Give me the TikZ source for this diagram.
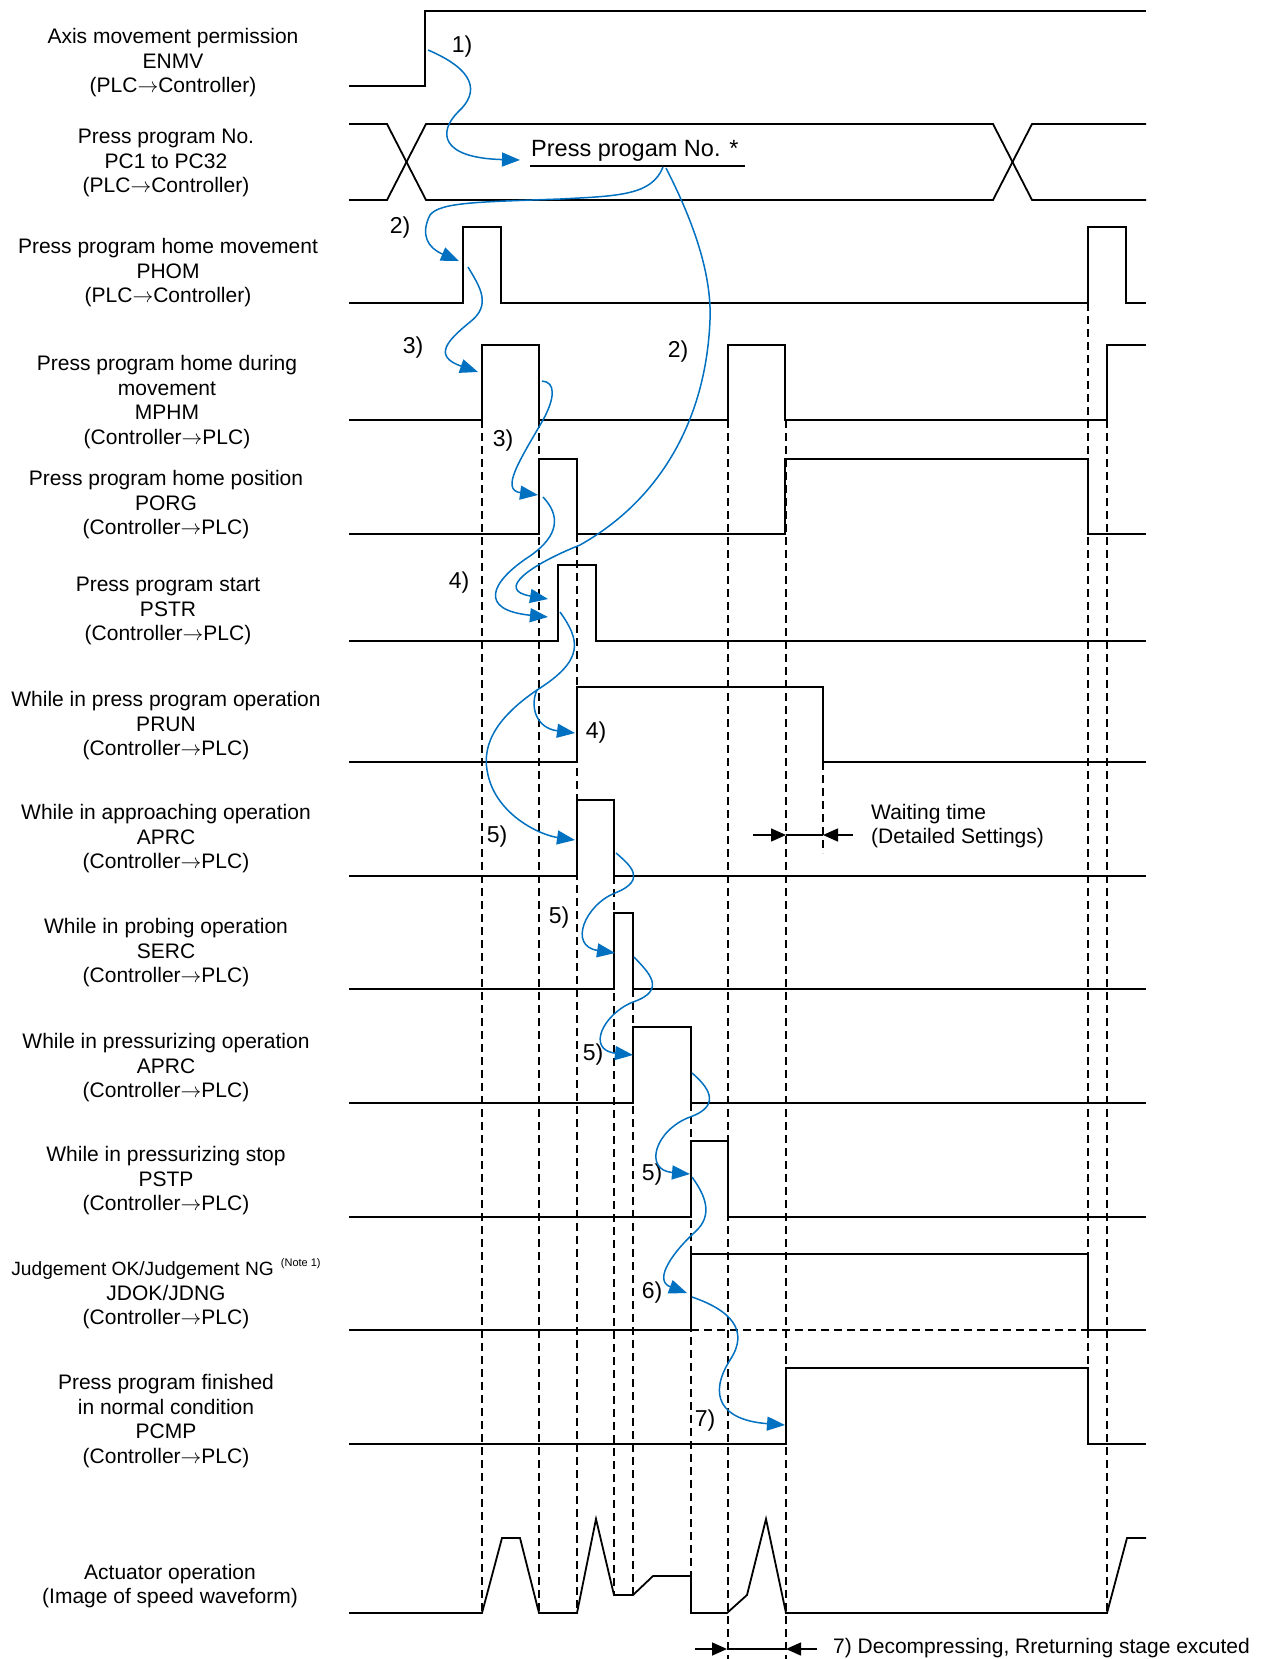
\documentclass[tikz,border=0pt]{standalone}
\usepackage{fontspec}
\setmainfont{Liberation Sans}
\usetikzlibrary{arrows.meta}
\definecolor{flowblue}{RGB}{0,112,192}
\newcommand{\myarr}{\ensuremath{\rightarrow}}
\tikzset{
  wave/.style={line width=1.8pt, line join=miter},
  guide/.style={line width=1.5pt, dash pattern=on 8pt off 5pt},
  flow/.style={flowblue, line width=1.5pt, -{Triangle[length=18pt,width=14pt]}},
  lbl/.style={align=center, font=\fontsize{21}{24.5}\selectfont, inner sep=0pt},
  num/.style={font=\fontsize{23}{27}\selectfont, inner sep=0pt},
  dimarrow/.style={line width=1.5pt, -{Triangle[length=15pt,width=13pt]}},
  dimline/.style={line width=1.5pt},
}
\begin{document}
\begin{tikzpicture}[x=1pt,y=-1pt]
\useasboundingbox (0,0) rectangle (1272,1659);

% ---------- signal labels ----------
\node[lbl] (tENMV) at (173,63) {Axis movement permission\\ENMV\\(PLC\myarr Controller)};
\node[lbl] (tPC) at (166,163) {Press program No.\\PC1 to PC32\\(PLC\myarr Controller)};
\node[lbl] (tPHOM) at (168,273) {Press program home movement\\PHOM\\(PLC\myarr Controller)};
\node[lbl] (tMPHM) at (167,402) {Press program home during\\movement\\MPHM\\(Controller\myarr PLC)};
\node[lbl] (tPORG) at (166,505) {Press program home position\\PORG\\(Controller\myarr PLC)};
\node[lbl] (tPSTR) at (168,611) {Press program start\\PSTR\\(Controller\myarr PLC)};
\node[lbl] (tPRUN) at (166,726) {While in press program operation\\PRUN\\(Controller\myarr PLC)};
\node[lbl] (tAPRC) at (166,839) {While in approaching operation\\APRC\\(Controller\myarr PLC)};
\node[lbl] (tSERC) at (166,953) {While in probing operation\\SERC\\(Controller\myarr PLC)};
\node[lbl] (tAPRCb) at (166,1068) {While in pressurizing operation\\APRC\\(Controller\myarr PLC)};
\node[lbl] (tPSTP) at (166,1181) {While in pressurizing stop\\PSTP\\(Controller\myarr PLC)};
\node[lbl] (tJDOK) at (166,1294) {{\fontsize{19.2}{24.5}\selectfont Judgement OK/Judgement NG}\hspace{7pt}\raisebox{9pt}{\fontsize{11}{13}\selectfont(Note 1)}\\JDOK/JDNG\\(Controller\myarr PLC)};
\node[lbl] (tPCMP) at (166,1421) {Press program finished\\in normal condition\\PCMP\\(Controller\myarr PLC)};
\node[lbl] (tACT) at (170,1586) {Actuator operation\\(Image of speed waveform)};

% ---------- guides (dashed) ----------
\draw[guide] (482,420) -- (482,1613);
\draw[guide] (539,420) -- (539,1613);
\draw[guide] (577,534) -- (577,1613);
\draw[guide] (614,876) -- (614,1595);
\draw[guide] (633,989) -- (633,1595);
\draw[guide] (691,1103) -- (691,1576);
\draw[guide] (728,420) -- (728,1659);
\draw[guide] (786,420) -- (786,1659);
\draw[guide] (823,762) -- (823,853);
\draw[guide] (1088,303) -- (1088,1444);
\draw[guide] (1107,420) -- (1107,1613);
\draw[guide] (691,1330) -- (1088,1330);

% ---------- waveforms ----------
\draw[wave] (349,86) -- (425,86) -- (425,11) -- (1146,11);
\draw[wave] (349,124) -- (387,124) -- (426,200) -- (993,200) -- (1032,124) -- (1146,124);
\draw[wave] (349,200) -- (387,200) -- (426,124) -- (993,124) -- (1032,200) -- (1146,200);
\draw[wave] (349,303) -- (463,303) -- (463,227) -- (501,227) -- (501,303) -- (1088,303) -- (1088,227) -- (1126,227) -- (1126,303) -- (1146,303);
\draw[wave] (349,420) -- (482,420) -- (482,345) -- (539,345) -- (539,420) -- (728,420) -- (728,345) -- (785,345) -- (785,420) -- (1107,420) -- (1107,345) -- (1146,345);
\draw[wave] (349,534) -- (539,534) -- (539,459) -- (577,459) -- (577,534) -- (785,534) -- (785,459) -- (1088,459) -- (1088,534) -- (1146,534);
\draw[wave] (349,641) -- (558,641) -- (558,565) -- (596,565) -- (596,641) -- (1146,641);
\draw[wave] (349,762) -- (577,762) -- (577,687) -- (823,687) -- (823,762) -- (1146,762);
\draw[wave] (349,876) -- (577,876) -- (577,800) -- (614,800) -- (614,876) -- (1146,876);
\draw[wave] (349,989) -- (614,989) -- (614,913) -- (633,913) -- (633,989) -- (1146,989);
\draw[wave] (349,1103) -- (633,1103) -- (633,1027) -- (691,1027) -- (691,1103) -- (1146,1103);
\draw[wave] (349,1217) -- (691,1217) -- (691,1141) -- (728,1141) -- (728,1217) -- (1146,1217);
\draw[wave] (349,1330) -- (691,1330) -- (691,1254) -- (1088,1254) -- (1088,1330) -- (1146,1330);
\draw[wave] (349,1444) -- (786,1444) -- (786,1368) -- (1088,1368) -- (1088,1444) -- (1146,1444);
\draw[wave] (349,1613) -- (482,1613) -- (502,1538) -- (520,1538) -- (539,1613) -- (577,1613) -- (596,1519) -- (614,1595) -- (633,1595) -- (653,1576) -- (691,1576) -- (691,1613) -- (727,1613) -- (747,1595) -- (766,1519) -- (786,1613) -- (1107,1613) -- (1127,1538) -- (1146,1538);

% ---------- bus value text ----------
\node[font=\fontsize{23.5}{28}\selectfont, anchor=base west, inner sep=0pt] (tbus) at (531,156) {Press progam No. *};
\coordinate (ul1) at (530,166);
\coordinate (ul2) at (745,166);
\draw[line width=1.7pt] (ul1) -- (ul2);

% ---------- number labels ----------
\node[num] (n1) at (462,47) {1)};
\node[num] (n2a) at (400,228) {2)};
\node[num] (n3a) at (413,348) {3)};
\node[num] (n2b) at (678,352) {2)};
\node[num] (n3b) at (503,441) {3)};
\node[num] (n4a) at (459,583) {4)};
\node[num] (n4b) at (596,733) {4)};
\node[num] (n5a) at (497,837) {5)};
\node[num] (n5b) at (559,918) {5)};
\node[num] (n5c) at (593,1055) {5)};
\node[num] (n5d) at (652,1175) {5)};
\node[num] (n6) at (652,1293) {6)};
\node[num] (n7) at (705,1421) {7)};

% ---------- flow arrows ----------
\coordinate (a1s) at (428,50);   \coordinate (a1e) at (520,160);
\coordinate (a2s) at (663,167);  \coordinate (a2e) at (459,261);
\coordinate (a2t) at (666,168);  \coordinate (a2f) at (548,599);
\coordinate (a3s) at (468,267);  \coordinate (a3e) at (478,372);
\coordinate (a3t) at (542,381);  \coordinate (a3f) at (538,495);
\coordinate (a4s) at (543,497);  \coordinate (a4e) at (548,617);
\coordinate (a5s) at (560,612);  \coordinate (jn)  at (537,690);
\coordinate (a4f) at (575,733);  \coordinate (a5e) at (575,840);
\coordinate (b5s) at (616,853);  \coordinate (b5e) at (615,953);
\coordinate (c5s) at (634,957);  \coordinate (c5e) at (633,1055);
\coordinate (d5s) at (692,1073); \coordinate (d5e) at (690,1174);
\coordinate (a6s) at (692,1177); \coordinate (a6e) at (687,1293);
\coordinate (a7s) at (692,1297); \coordinate (a7e) at (785,1425);

\draw[flow] (a1s) .. controls (475,70) and (480,92) .. (458,112) .. controls (438,132) and (440,158) .. (a1e);
\draw[flow] (a2s) .. controls (652,195) and (620,196) .. (560,199) .. controls (480,202) and (440,202) .. (430,215) .. controls (420,235) and (428,248) .. (a2e);
\draw[flow] (a2t) .. controls (690,215) and (712,270) .. (710,320) .. controls (706,420) and (660,500) .. (580,545) .. controls (530,565) and (495,590) .. (a2f);
\draw[flow] (a3s) .. controls (480,287) and (492,305) .. (470,322) .. controls (448,340) and (432,356) .. (a3e);
\draw[flow] (a3t) .. controls (556,382) and (555,398) .. (543,420) .. controls (520,460) and (500,490) .. (a3f);
\draw[flow] (a4s) .. controls (560,515) and (560,535) .. (530,556) .. controls (490,582) and (478,610) .. (a4e);
\draw[flow] (a5s) .. controls (580,640) and (585,660) .. (jn) .. controls (490,722) and (482,750) .. (488,775) .. controls (497,815) and (540,835) .. (a5e);
\draw[flow] (jn) .. controls (530,705) and (535,728) .. (a4f);
\draw[flow] (b5s) .. controls (630,865) and (648,880) .. (615,893) .. controls (585,905) and (568,946) .. (b5e);
\draw[flow] (c5s) .. controls (648,972) and (668,990) .. (633,1002) .. controls (603,1014) and (586,1050) .. (c5e);
\draw[flow] (d5s) .. controls (706,1085) and (724,1105) .. (690,1117) .. controls (655,1130) and (643,1170) .. (d5e);
\draw[flow] (a6s) .. controls (705,1195) and (714,1215) .. (695,1232) .. controls (675,1250) and (652,1280) .. (a6e);
\draw[flow] (a7s) .. controls (730,1310) and (750,1330) .. (730,1360) .. controls (708,1395) and (720,1420) .. (a7e);

% ---------- waiting time ----------
\coordinate (wl) at (753,835); \coordinate (wa) at (786,835);
\coordinate (wb) at (823,835); \coordinate (wr) at (853,835);
\draw[dimarrow] (wl) -- (wa);
\draw[dimarrow] (wr) -- (wb);
\draw[dimline] (wa) -- (wb);
\node[anchor=west, align=left, font=\fontsize{21}{24}\selectfont, inner sep=0pt] (twait) at (871,826) {Waiting time\\(Detailed Settings)};

% ---------- decompress ----------
\coordinate (dl) at (695,1649); \coordinate (da) at (727,1649);
\coordinate (db) at (786,1649); \coordinate (dr) at (817,1649);
\draw[dimarrow] (dl) -- (da);
\draw[dimarrow] (dr) -- (db);
\draw[dimline] (da) -- (db);
\node[anchor=west, font=\fontsize{21}{24}\selectfont, inner sep=0pt] (tdec) at (833,1648) {7) Decompressing, Rreturning stage excuted};
\end{tikzpicture}
\end{document}
